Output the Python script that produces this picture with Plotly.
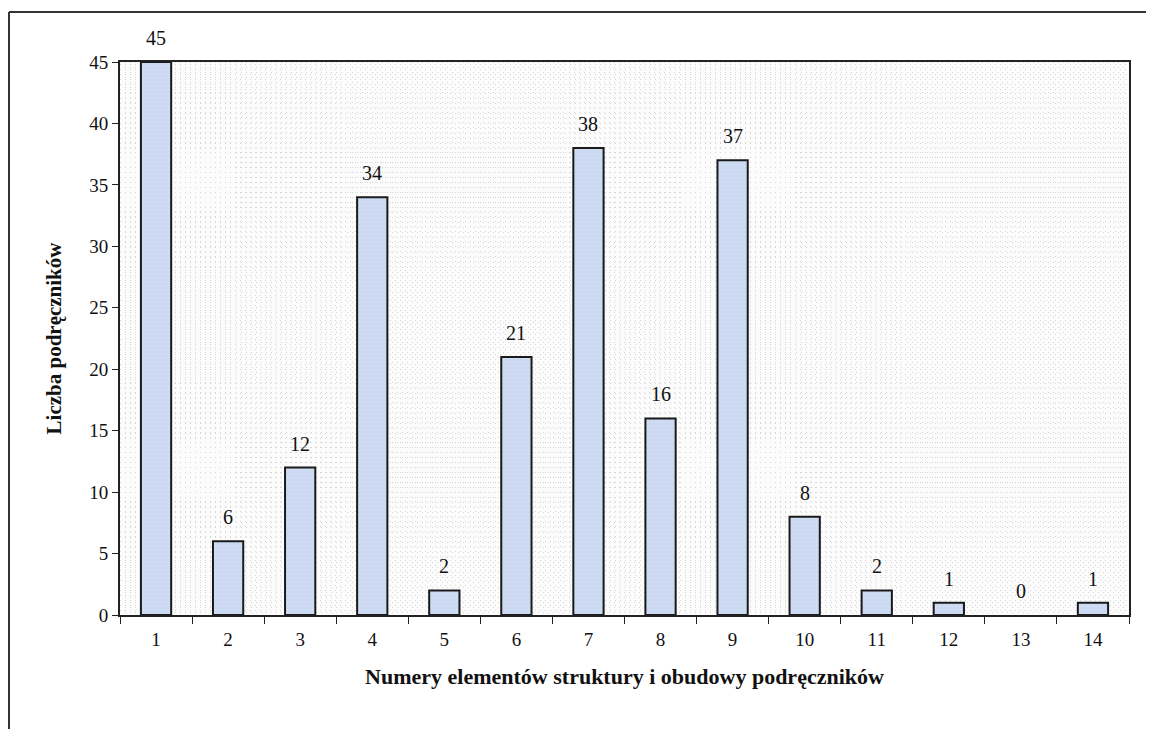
import plotly.graph_objects as go

categories = [1, 2, 3, 4, 5, 6, 7, 8, 9, 10, 11, 12, 13, 14]
values = [45, 6, 12, 34, 2, 21, 38, 16, 37, 8, 2, 1, 0, 1]
y_ticks = [0, 5, 10, 15, 20, 25, 30, 35, 40, 45]
x_title = "Numery elementów struktury i obudowy podręczników"
y_title = "Liczba podręczników"

FONT = "Liberation Serif"
OFF = 8  # page body margin
W, H = 1154 - OFF, 729 - OFF
ML, MR, MT, MB = 120 - OFF, 25, 62 - OFF, 114
pw, ph = W - ML - MR, H - MT - MB

fig = go.Figure()
fig.add_trace(go.Bar(
    x=categories, y=values, width=0.42,
    marker=dict(color="#cfdcf3",
                line=dict(color="#1a1a1a", width=[2 if v > 0 else 0 for v in values]),
                pattern=dict(shape="+", fgcolor="#a9bde6", size=4, solidity=0.15)),
    hoverinfo="x+y", showlegend=False,
))

for c, v in zip(categories, values):
    fig.add_annotation(x=c, y=v, text=str(v), showarrow=False, yanchor="bottom",
                       yshift=11, font=dict(family=FONT, size=20, color="#111"))

# outer frame (scanned page border)
fx = (9 - OFF - ML) / pw
fy = (MT + ph - (12 - OFF)) / ph
fig.add_shape(type="line", xref="paper", yref="paper", x0=fx, x1=fx, y0=-0.3, y1=fy,
              line=dict(color="#333", width=2))
fig.add_shape(type="line", xref="paper", yref="paper", x0=fx, x1=1.1, y0=fy, y1=fy,
              line=dict(color="#333", width=2))

fig.update_layout(
    width=W, height=H,
    margin=dict(l=ML, r=MR, t=MT, b=MB),
    paper_bgcolor="white", plot_bgcolor="#fcfcfc",
    font=dict(family=FONT, size=19, color="#111"),
    xaxis=dict(
        range=[0.5, 14.5], tickmode="array",
        tickvals=[c - 0.5 for c in categories] + [14.5], ticktext=[""] * 15,
        ticks="outside", ticklen=7, tickcolor="#222", tickwidth=1,
        showline=True, linecolor="#222", linewidth=2, mirror=True,
        showgrid=False, zeroline=False,
        minor=dict(dtick=0.07, tick0=0.5, showgrid=True, gridcolor="#d6d6d6",
                   gridwidth=1, griddash="1px,4px"),
        title=dict(text="<b>" + x_title + "</b>", standoff=42,
                   font=dict(family=FONT, size=22)),
    ),
    xaxis2=dict(
        overlaying="x", side="bottom", range=[0.5, 14.5], tickmode="array",
        tickvals=categories, ticktext=[str(c) for c in categories],
        ticks="", showgrid=False, zeroline=False, showline=False,
        tickfont=dict(family=FONT, size=19), ticklabelstandoff=11,
    ),
    yaxis=dict(
        range=[0, 45], tickmode="array", tickvals=y_ticks,
        ticks="outside", ticklen=6, tickcolor="#222",
        showline=True, linecolor="#222", linewidth=2, mirror=True,
        showgrid=False, zeroline=False,
        minor=dict(dtick=0.4, tick0=0, showgrid=True, gridcolor="#d6d6d6",
                   gridwidth=1, griddash="1px,4px"),
        tickfont=dict(family=FONT, size=19),
        title=dict(text="<b>" + y_title + "</b>", standoff=22,
                   font=dict(family=FONT, size=21)),
    ),
)
# invisible trace to activate xaxis2
fig.add_trace(go.Scatter(x=[1], y=[0], xaxis="x2", mode="markers",
                         marker=dict(opacity=0), showlegend=False, hoverinfo="skip"))

fig.write_html("out.html")
